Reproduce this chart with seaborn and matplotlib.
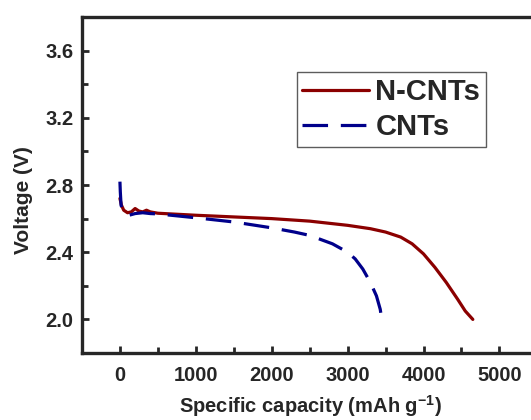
import numpy as np
import pandas as pd
import matplotlib
matplotlib.use("Agg")
import matplotlib.pyplot as plt
import seaborn as sns

# discharge curves
ncnt_cap = [0, 20, 50, 100, 150, 200, 250, 300, 350, 400, 500, 1000, 1500, 2000, 2500,
            3000, 3300, 3500, 3700, 3850, 4000, 4150, 4300, 4450, 4550, 4650]
ncnt_v = [2.72, 2.68, 2.65, 2.635, 2.64, 2.66, 2.645, 2.64, 2.65, 2.64, 2.632, 2.62, 2.61,
          2.60, 2.585, 2.56, 2.54, 2.52, 2.49, 2.45, 2.39, 2.31, 2.22, 2.12, 2.05, 2.0]

cnt_cap = [0, 5, 15, 40, 80, 120, 200, 300, 400, 500, 1000, 1500, 2000, 2300, 2500,
           2800, 3000, 3100, 3200, 3300, 3380, 3430, 3450]
cnt_v = [2.82, 2.76, 2.68, 2.64, 2.625, 2.62, 2.63, 2.635, 2.63, 2.628, 2.605, 2.58, 2.545,
         2.52, 2.5, 2.45, 2.40, 2.36, 2.30, 2.22, 2.14, 2.06, 2.0]

x_ticks = [0, 1000, 2000, 3000, 4000, 5000]
y_ticks = [2.0, 2.4, 2.8, 3.2, 3.6]

df = pd.concat([
    pd.DataFrame({"cap": ncnt_cap, "volt": ncnt_v, "sample": "N-CNTs"}),
    pd.DataFrame({"cap": cnt_cap, "volt": cnt_v, "sample": "CNTs"}),
])

sns.set_style("ticks")
plt.rcParams["font.family"] = ["Liberation Sans", "DejaVu Sans"]
plt.rcParams["font.weight"] = "bold"
plt.rcParams["mathtext.fontset"] = "custom"
plt.rcParams["mathtext.rm"] = "Liberation Sans:bold"
plt.rcParams["mathtext.bf"] = "Liberation Sans:bold"

fig = plt.figure(figsize=(5.31, 4.20), dpi=100)
# the right part of the frame runs off the picture, as in the original
ax = fig.add_axes([0.1544, 0.1595, 0.929, 0.8])

sns.lineplot(data=df, x="cap", y="volt", hue="sample", style="sample",
             palette={"N-CNTs": "#8b0000", "CNTs": "#00008b"},
             dashes={"N-CNTs": "", "CNTs": (8, 4)},
             linewidth=2.3, sort=False, estimator=None, ax=ax)

ax.set_xlim(-500, 6000)
ax.set_ylim(1.8, 3.8)
ax.set_xticks(x_ticks)
ax.set_xticks([-500, 500, 1500, 2500, 3500, 4500, 5500], minor=True)
ax.set_yticks(y_ticks)
ax.set_yticklabels([f"{v:.1f}" for v in y_ticks])
ax.set_yticks([1.8, 2.2, 2.6, 3.0, 3.4, 3.8], minor=True)

for s in ax.spines.values():
    s.set_linewidth(2.4)
ax.spines["right"].set_visible(False)

ax.tick_params(which="both", direction="in", width=2, labelsize=14.5)
ax.tick_params(axis="x", pad=9)
ax.tick_params(axis="y", pad=6)
ax.tick_params(which="major", length=5)
ax.tick_params(which="minor", length=4)

ax.set_xlabel("Specific capacity (mAh g$^{-1}$)", fontsize=14.5, fontweight="bold")
ax.set_ylabel("Voltage (V)", fontsize=15, fontweight="bold")
ax.xaxis.set_label_coords(0.464, -0.12)
ax.yaxis.set_label_coords(-0.099, 0.455)

leg = ax.legend(title=None, loc="upper left", bbox_to_anchor=(0.435, 0.836),
                fontsize=21, frameon=True, fancybox=False, handlelength=2.3,
                handletextpad=0.2, borderpad=0.2, labelspacing=0.25, borderaxespad=0)
leg.get_frame().set_edgecolor("#333333")
leg.get_frame().set_linewidth(1.0)
for t in leg.get_texts():
    t.set_fontweight("bold")

fig.savefig("out.png", dpi=100)
